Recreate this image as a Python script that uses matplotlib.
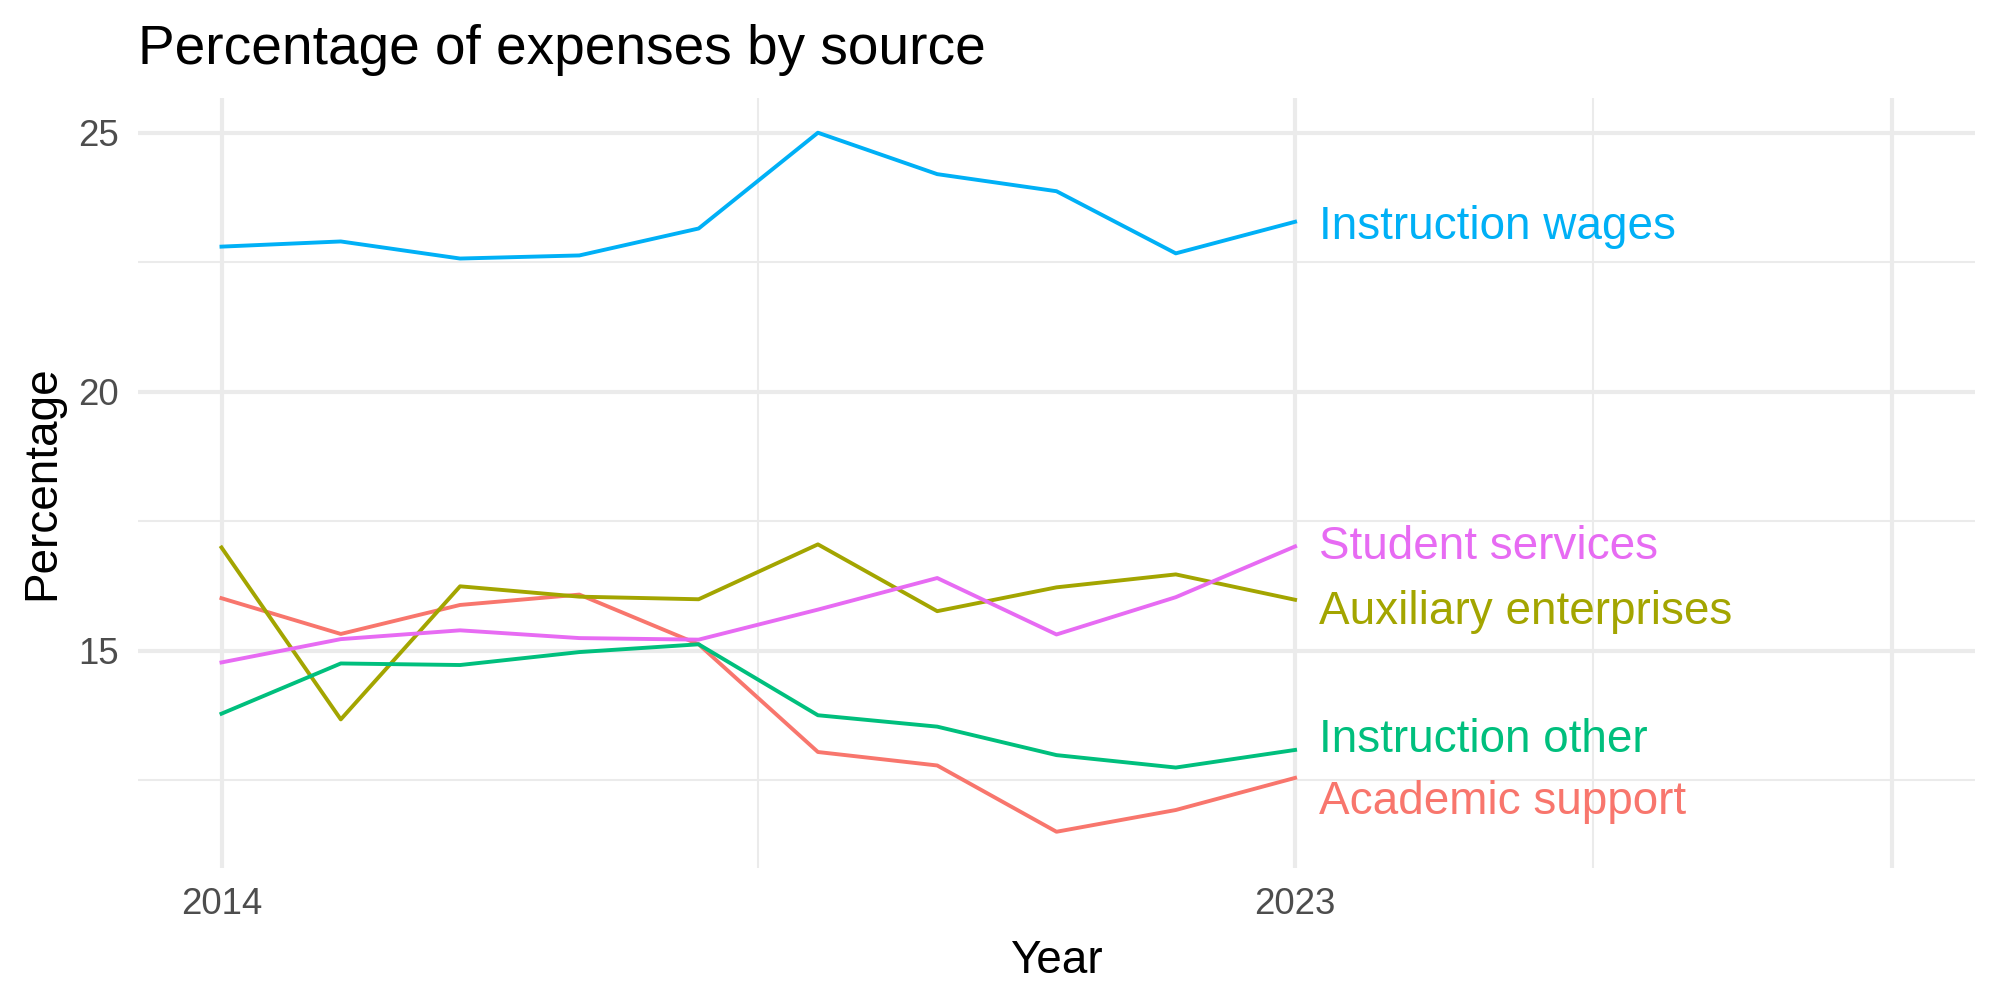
import matplotlib.pyplot as plt
from matplotlib.ticker import FixedLocator

plt.rcParams["font.family"] = ["Liberation Sans", "DejaVu Sans"]

years = [2014, 2015, 2016, 2017, 2018, 2019, 2020, 2021, 2022, 2023]

academic_support = [16.01, 15.32, 15.88, 16.08, 15.12, 13.04, 12.78, 11.50, 11.92, 12.54]
auxiliary_enterprises = [16.99, 13.67, 16.24, 16.04, 15.99, 17.05, 15.76, 16.22, 16.47, 15.98]
instruction_other = [13.78, 14.75, 14.72, 14.97, 15.12, 13.75, 13.53, 12.98, 12.74, 13.08]
instruction_wages = [22.80, 22.90, 22.57, 22.63, 23.15, 25.00, 24.20, 23.87, 22.67, 23.28]
student_services = [14.77, 15.22, 15.39, 15.24, 15.21, 15.79, 16.40, 15.31, 16.03, 17.01]

series = {
    "Academic support": academic_support,
    "Auxiliary enterprises": auxiliary_enterprises,
    "Instruction other": instruction_other,
    "Instruction wages": instruction_wages,
    "Student services": student_services,
}
colors = {
    "Academic support": "#F8766D",
    "Auxiliary enterprises": "#A3A500",
    "Instruction other": "#00BF7D",
    "Instruction wages": "#00B0F6",
    "Student services": "#E76BF3",
}
# labels were repelled a little off the line ends
label_nudge = {
    "Academic support": -0.47,
    "Auxiliary enterprises": -0.23,
    "Instruction other": 0.19,
    "Instruction wages": -0.10,
    "Student services": -0.02,
}

fig = plt.figure(figsize=(10, 5), dpi=200)
ax = fig.add_axes([0.069, 0.132, 0.9185, 0.7705])

for name, vals in series.items():
    ax.plot(years, vals, color=colors[name], lw=1.4, zorder=3)
    ax.text(years[-1] + 0.2, vals[-1] + label_nudge[name], name,
            color=colors[name], fontsize=16.5, va="center", ha="left")

ax.set_xlim(2013.3, 2028.7)
ax.set_ylim(10.8, 25.68)

ax.xaxis.set_major_locator(FixedLocator([2014, 2023, 2028]))
ax.set_xticklabels(["2014", "2023", ""])
ax.xaxis.set_minor_locator(FixedLocator([2018.5, 2025.5]))
ax.yaxis.set_major_locator(FixedLocator([15, 20, 25]))
ax.yaxis.set_minor_locator(FixedLocator([12.5, 17.5, 22.5]))

ax.grid(which="major", color="#EBEBEB", lw=1.5)
ax.grid(which="minor", color="#EBEBEB", lw=0.75)
ax.set_axisbelow(True)
for s in ax.spines.values():
    s.set_visible(False)
ax.tick_params(which="both", length=0)
ax.tick_params(axis="x", labelsize=13.2, labelcolor="#4D4D4D", pad=7)
ax.tick_params(axis="y", labelsize=13.2, labelcolor="#4D4D4D", pad=7)

ax.set_xlabel("Year", fontsize=16.5, labelpad=6)
ax.set_ylabel("Percentage", fontsize=16.5, labelpad=5)
ax.set_title("Percentage of expenses by source", fontsize=19.8, loc="left", pad=12)

plt.savefig("out.png")
